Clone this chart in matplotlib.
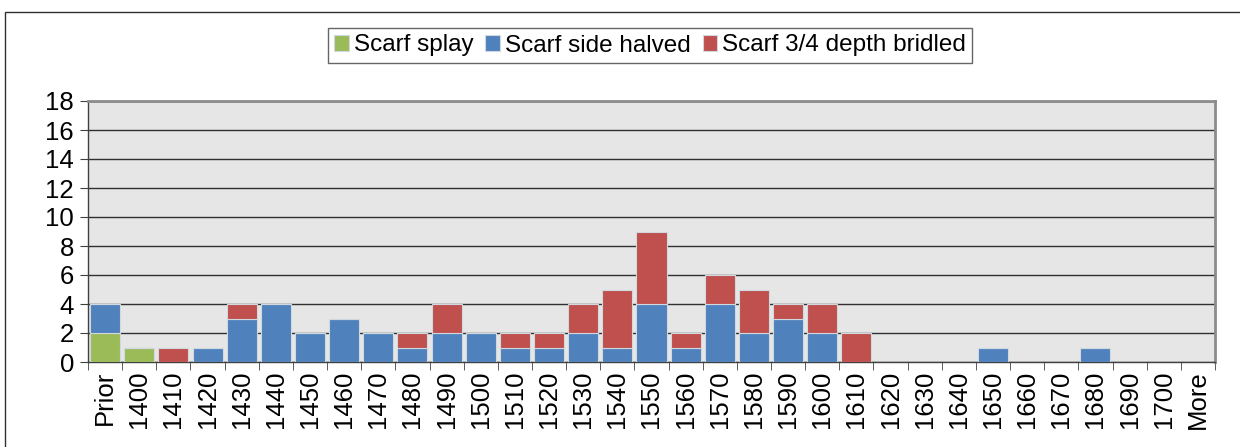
import matplotlib
matplotlib.use("Agg")
import matplotlib.pyplot as plt
import numpy as np
from matplotlib.patches import Rectangle

plt.rcParams["font.family"] = ["Liberation Sans", "DejaVu Sans"]

# Counts per decade, stacked by scarf joint type
categories = ["Prior"] + [str(y) for y in range(1400, 1710, 10)] + ["More"]
splay = [2, 1, 0, 0, 0, 0, 0, 0, 0, 0, 0, 0, 0, 0, 0, 0, 0, 0, 0, 0, 0,
         0, 0, 0, 0, 0, 0, 0, 0, 0, 0, 0, 0]
side_halved = [2, 0, 0, 1, 3, 4, 2, 3, 2, 1, 2, 2, 1, 1, 2, 1, 4, 1, 4, 2, 3,
               2, 0, 0, 0, 0, 1, 0, 0, 1, 0, 0, 0]
bridled = [0, 0, 1, 0, 1, 0, 0, 0, 0, 1, 2, 0, 1, 1, 2, 4, 5, 1, 2, 3, 1,
           2, 2, 0, 0, 0, 0, 0, 0, 0, 0, 0, 0]

fig = plt.figure(figsize=(12.4, 4.47), dpi=100)
ax = fig.add_axes([88 / 1240, 1 - 362 / 447, (1215 - 88) / 1240, (362 - 101) / 447])

# outer chart frame
fig.patches.append(Rectangle((5 / 1240, -0.2), 1.2, 1.2 - 12 / 447,
                             transform=fig.transFigure, fill=False,
                             edgecolor="#303030", lw=1.0, zorder=0))

x = np.arange(len(categories))
s = np.array(splay)
h = np.array(side_halved)
b = np.array(bridled)
kw = dict(width=0.88, edgecolor="#d0d8e0", linewidth=0.8, zorder=3)
ax.bar(x, s, color="#9bbb59", label="Scarf splay", **kw)
ax.bar(x, h, bottom=s, color="#4f81bd", label="Scarf side halved", **kw)
ax.bar(x, b, bottom=s + h, color="#c0504d", label="Scarf 3/4 depth bridled", **kw)

ax.set_facecolor("#e6e6e6")
ax.set_xlim(-0.5, len(categories) - 0.5)
ax.set_ylim(0, 18)
ax.set_yticks(range(0, 19, 2))
ax.yaxis.grid(True, color="#303030", lw=1.0, zorder=1)
ax.set_axisbelow(True)

ax.set_xticks(x)
ax.set_xticklabels(categories, rotation=90, fontsize=18.5)
ax.set_xticks(np.arange(-0.5, len(categories), 1), minor=True)
ax.tick_params(axis="x", which="major", length=0, pad=6)
ax.tick_params(axis="x", which="minor", length=6, color="#404040")
ax.tick_params(axis="y", labelsize=18.5, length=6, color="#404040", pad=4)

for side in ["top", "right"]:
    ax.spines[side].set_color("#8c8c8c")
    ax.spines[side].set_linewidth(2.0)
for side in ["left", "bottom"]:
    ax.spines[side].set_color("#404040")
    ax.spines[side].set_linewidth(1.0)

fig.legend(loc="center", bbox_to_anchor=(650 / 1240, 1 - 45.5 / 447), ncol=3,
           fontsize=17.5, frameon=True, fancybox=False, edgecolor="#404040",
           handlelength=0.6, handleheight=0.6, handletextpad=0.2,
           columnspacing=0.5, borderpad=0.25)

fig.savefig("out.png", dpi=100)
